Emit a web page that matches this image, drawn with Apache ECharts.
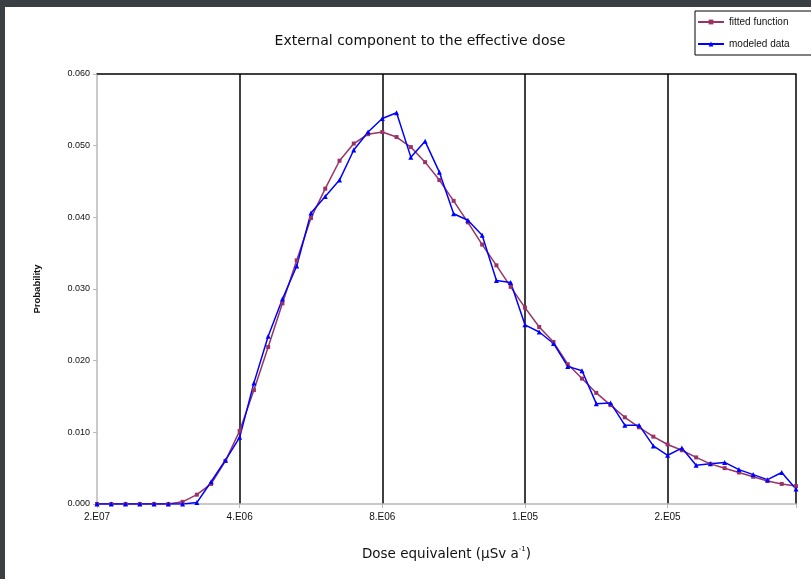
<!DOCTYPE html>
<html>
<head>
<meta charset="utf-8">
<script src="https://cdn.jsdelivr.net/npm/echarts@6/dist/echarts.min.js"></script>
<style>
  html, body { margin: 0; padding: 0; background: #3a3f43; width: 811px; height: 579px; overflow: hidden; }
  #chart { position: absolute; left: 5px; top: 7px; width: 806px; height: 572px; background: #fff; }
</style>
</head>
<body>
<div id="chart"></div>
<script>
// category index of each point (50 bins), labels shown every 10 bins
const xTickLabels = ['2.E07', '4.E06', '8.E06', '1.E05', '2.E05']
const fittedFunction = [0, 0, 0, 0, 0, 0, 0.0003, 0.0013, 0.0028, 0.0060,
  0.0102, 0.0159, 0.0219, 0.0280, 0.0340, 0.0399, 0.0440, 0.0479, 0.0503, 0.0516,
  0.0519, 0.0512, 0.0498, 0.0477, 0.0452, 0.0423, 0.0393, 0.0362, 0.0333, 0.0303,
  0.0274, 0.0247, 0.0226, 0.0195, 0.0175, 0.0155, 0.0138, 0.0121, 0.0107, 0.0094,
  0.0083, 0.0075, 0.0065, 0.0056, 0.0050, 0.0044, 0.0038, 0.0032, 0.0028, 0.0025]
const modeledData = [0, 0, 0, 0, 0, 0, 0, 0.0002, 0.0031, 0.0061,
  0.0093, 0.0169, 0.0234, 0.0286, 0.0332, 0.0406, 0.0429, 0.0452, 0.0494, 0.0519,
  0.0538, 0.0546, 0.0484, 0.0506, 0.0463, 0.0405, 0.0396, 0.0375, 0.0312, 0.0309,
  0.0250, 0.0240, 0.0224, 0.0192, 0.0186, 0.0140, 0.0141, 0.0110, 0.0110, 0.0081,
  0.0068, 0.0078, 0.0054, 0.0056, 0.0058, 0.0048, 0.0041, 0.0034, 0.0044, 0.0021]

const font = 'Liberation Sans, Arial, sans-serif'
const wideFont = 'DejaVu Sans, sans-serif'
const toPairs = arr => arr.map((v, i) => [i, v])

var myChart = echarts.init(document.getElementById('chart'))
let option = {
  animation: false,
  title: {
    text: 'External component to the effective dose',
    left: 410, top: 22, textAlign: 'center',
    textStyle: { fontFamily: wideFont, fontSize: 14, fontWeight: 'normal', color: '#111' }
  },
  legend: {
    orient: 'vertical',
    left: 690, top: 4,
    itemWidth: 26, itemHeight: 6, itemGap: 12,
    padding: [6, 30, 6, 2],
    borderColor: '#000', borderWidth: 1,
    textStyle: { fontFamily: font, fontSize: 10, color: '#111' },
    data: ['fitted function', 'modeled data']
  },
  grid: { left: 92, right: 15, top: 67, bottom: 75 },
  xAxis: [
    {
      type: 'value', min: 0, max: 49, interval: 10,
      axisLine: { lineStyle: { color: '#b8b8b8', width: 1.5 } },
      axisTick: { lineStyle: { color: '#b8b8b8' }, length: 4 },
      axisLabel: {
        fontFamily: font, fontSize: 10, color: '#111', margin: 8,
        formatter: v => (v % 10 === 0 ? xTickLabels[v / 10] : '')
      },
      splitLine: { show: true, showMinLine: false, showMaxLine: true, lineStyle: { color: '#000', width: 1.5 } },
      name: 'Dose equivalent (µSv a{sup|-1})',
      nameLocation: 'middle', nameGap: 42,
      nameTextStyle: {
        fontFamily: wideFont, fontSize: 13.5, color: '#111',
        rich: { sup: { fontFamily: wideFont, fontSize: 7, verticalAlign: 'top', padding: [0, 0, 9, 0] } }
      }
    },
    {
      type: 'value', min: 0, max: 49, position: 'top',
      axisLine: { show: true, lineStyle: { color: '#000', width: 1.5 } },
      axisTick: { show: false }, axisLabel: { show: false }, splitLine: { show: false }
    }
  ],
  yAxis: {
    type: 'value', min: 0, max: 0.06, interval: 0.01,
    axisLine: { show: true, lineStyle: { color: '#b8b8b8', width: 1.5 } },
    axisTick: { show: true, lineStyle: { color: '#b8b8b8' }, length: 4 },
    axisLabel: { fontFamily: font, fontSize: 9, color: '#111', margin: 7, formatter: v => v.toFixed(3) },
    splitLine: { show: false },
    name: 'Probability', nameLocation: 'middle', nameGap: 55, nameRotate: 90,
    nameTextStyle: { fontFamily: font, fontSize: 9.5, fontWeight: 'bold', color: '#111' }
  },
  series: [
    {
      name: 'fitted function', type: 'line', data: toPairs(fittedFunction),
      symbol: 'rect', symbolSize: 4, showAllSymbol: true,
      itemStyle: { color: '#993366' },
      lineStyle: { color: '#993366', width: 1.5 }
    },
    {
      name: 'modeled data', type: 'line', data: toPairs(modeledData),
      symbol: 'triangle', symbolSize: 5, showAllSymbol: true,
      itemStyle: { color: '#0000ff' },
      lineStyle: { color: '#0000ff', width: 1.5 }
    }
  ]
}
myChart.setOption(option)
</script>
</body>
</html>
